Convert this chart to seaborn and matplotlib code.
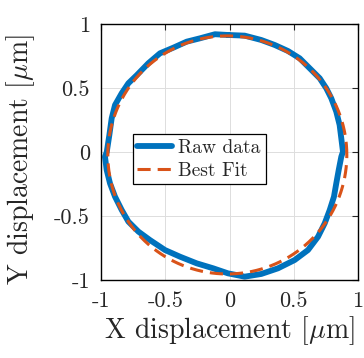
import numpy as np
import pandas as pd
import matplotlib
matplotlib.use('Agg')
import matplotlib.pyplot as plt
import seaborn as sns

raw_x = [-0.009, 0.118, 0.247, 0.352, 0.455, 0.546, 0.624, 0.702, 0.753, 0.792,
         0.831, 0.857, 0.870, 0.883, 0.870, 0.850, 0.831, 0.813, 0.780, 0.741,
         0.689, 0.611, 0.507, 0.377, 0.247, 0.118, -0.012, -0.126, -0.255, -0.385,
         -0.502, -0.619, -0.709, -0.787, -0.839, -0.891, -0.930, -0.956, -0.969, -0.955,
         -0.935, -0.917, -0.891, -0.839, -0.787, -0.722, -0.632, -0.541, -0.437, -0.333,
         -0.230, -0.113, -0.009]
raw_y = [0.914, 0.909, 0.875, 0.836, 0.789, 0.732, 0.654, 0.576, 0.498, 0.420,
         0.315, 0.211, 0.107, 0.002, -0.037, -0.140, -0.245, -0.349, -0.453, -0.557,
         -0.662, -0.766, -0.844, -0.909, -0.953, -0.974, -0.948, -0.909, -0.870, -0.818,
         -0.766, -0.688, -0.622, -0.544, -0.453, -0.349, -0.245, -0.140, -0.037, 0.002,
         0.133, 0.263, 0.367, 0.459, 0.537, 0.600, 0.693, 0.771, 0.815, 0.862,
         0.888, 0.920, 0.914]

# Best fit circle parameters
fit_cx = -0.017
fit_cy = -0.023
fit_r = 0.93

tick_vals = [-1, -0.5, 0, 0.5, 1]
tick_labels = ['-1', '-0.5', '0', '0.5', '1']

sns.set_style('white')
plt.rcParams['font.family'] = ['cmr10', 'DejaVu Serif']
plt.rcParams['mathtext.fontset'] = 'cm'
plt.rcParams['axes.unicode_minus'] = False

raw = pd.DataFrame({'x': raw_x, 'y': raw_y})
theta = np.linspace(0, 2 * np.pi, 300)
fit = pd.DataFrame({'x': fit_cx + fit_r * np.cos(theta),
                    'y': fit_cy + fit_r * np.sin(theta)})

fig = plt.figure(figsize=(3.64, 3.58), dpi=100)
ax = fig.add_axes([0.2775, 0.2179, 0.7060, 0.7151])

sns.lineplot(data=raw, x='x', y='y', sort=False, estimator=None, ax=ax,
             color='#0072BD', lw=4.2, label='Raw data')
sns.lineplot(data=fit, x='x', y='y', sort=False, estimator=None, ax=ax,
             color='#D95319', lw=2.2, label='Best Fit')
ax.lines[-1].set_dashes([4.3, 2.3])

ax.set_xlim(-1, 1)
ax.set_ylim(-1, 1)
ax.set_xticks(tick_vals)
ax.set_xticklabels(tick_labels)
ax.set_yticks(tick_vals)
ax.set_yticklabels(tick_labels)
ax.tick_params(direction='in', top=True, right=True, length=4, width=0.8,
               labelsize=16)
ax.tick_params(axis='x', pad=8)
ax.tick_params(axis='y', pad=8)
ax.grid(True, color='#dddddd', lw=0.7)
for s in ax.spines.values():
    s.set_color('black')
    s.set_linewidth(1.0)

ax.set_xlabel(r'X displacement [$\mu$m]', fontsize=20)
ax.set_ylabel(r'Y displacement [$\mu$m]', fontsize=20)
ax.xaxis.set_label_coords(0.5, -0.135)
ax.yaxis.set_label_coords(-0.25, 0.47)

leg = ax.legend(loc='upper left', bbox_to_anchor=(0.123, 0.57), borderaxespad=0,
                fontsize=14, fancybox=False, framealpha=1, edgecolor='black',
                handlelength=1.8, handletextpad=0.3, borderpad=0.25, labelspacing=0.25)
leg.get_frame().set_linewidth(0.9)

fig.savefig('out.png', dpi=100)
